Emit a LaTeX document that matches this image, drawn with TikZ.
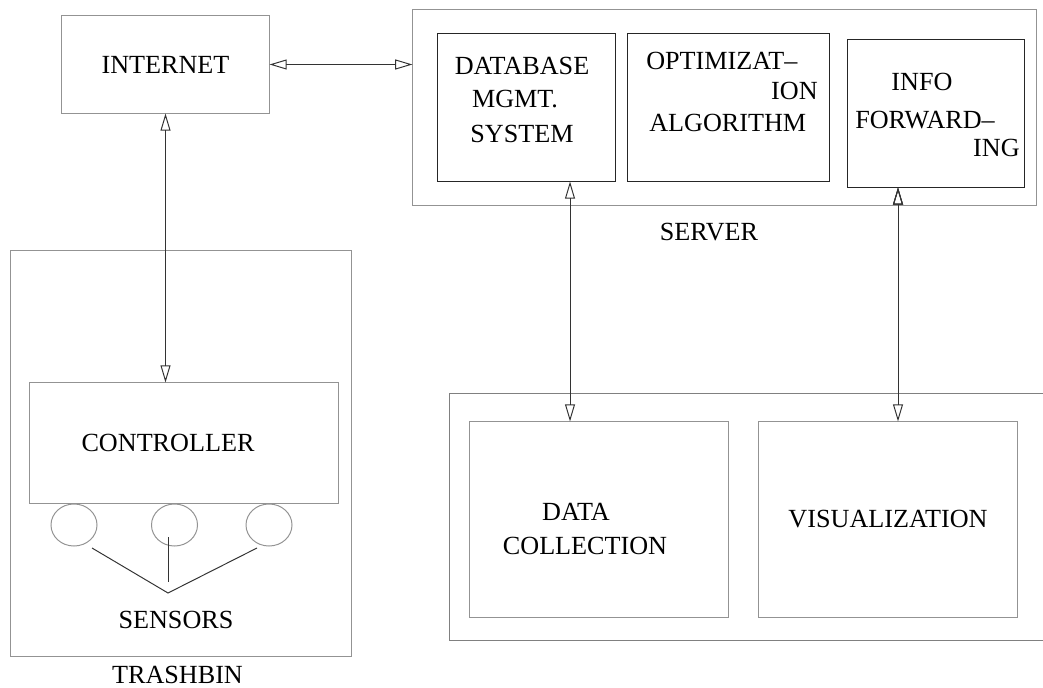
\documentclass[tikz,border=0pt]{standalone}
\usepackage{fontspec}
\setmainfont{Liberation Serif}
\usetikzlibrary{positioning,arrows.meta,shapes.geometric}
\tikzset{frame box/.style={draw=gray!85,line width=0.7pt,inner sep=0pt,font=\fontsize{18.6pt}{22pt}\selectfont},
	part box/.style={draw=black!85,line width=0.7pt,inner sep=0pt},
	sensor node/.style={ellipse,draw=gray!85,line width=0.7pt,minimum width=1.15cm,minimum height=1.05cm,inner sep=0pt},
	label text/.style={font=\fontsize{18.6pt}{22pt}\selectfont,inner sep=0pt},
	wire/.style={draw=black!80,line width=0.7pt},
	link/.style={wire,{Triangle[open,length=0.43cm,width=0.25cm]}-{Triangle[open,length=0.43cm,width=0.25cm]}},
}

\begin{document}
\begin{tikzpicture}[x=0.025cm,y=-0.025cm]
		\useasboundingbox (0,0) rectangle (1043,688);
		
		% boxes
		\node[frame box,minimum width=5.175cm,minimum height=2.425cm] (internet) at (165.5,64.5) {INTERNET};
		\node[frame box,minimum width=15.575cm,minimum height=4.875cm] (server) at (724.5,107.5) {};
		\node[part box,minimum width=4.425cm,minimum height=3.675cm] (db) at (526.5,107.5) {};
		\node[part box,minimum width=5.025cm,minimum height=3.675cm] (opt) at (728.5,107.5) {};
		\node[part box,minimum width=4.425cm,minimum height=3.675cm] (info) at (935.5,113.5) {};
		\node[frame box,minimum width=8.5cm,minimum height=10.125cm] (trashbin) at (181,453.5) {};
		\node[frame box,minimum width=7.7cm,minimum height=3cm] (controller) at (184,443) {};
		\node[frame box,draw=gray,minimum width=15cm,minimum height=6.15cm] (apps) at (750,517) {};
		\node[frame box,minimum width=6.45cm,minimum height=4.875cm] (data) at (599,519.5) {};
		\node[frame box,minimum width=6.45cm,minimum height=4.875cm] (vis) at (888,519.5) {VISUALIZATION};
		
		% sensors
		\node[sensor node] (s1) at (74,525) {};
		\node[sensor node] (s2) at (174.5,525) {};
		\node[sensor node] (s3) at (269,525) {};
		
		% texts
		\node[label text] (db1) at (522,66) {DATABASE};
		\node[label text] (db2) at (515,99) {MGMT.};
		\node[label text] (db3) at (522,134) {SYSTEM};
		\node[label text,anchor=west] (opt1) at (646,61) {OPTIMIZAT--};
		\node[label text,anchor=east] (opt2) at (818,91) {ION};
		\node[label text,anchor=west] (opt3) at (649,123) {ALGORITHM};
		\node[label text] (info1) at (922,82) {INFO};
		\node[label text,anchor=west] (info2) at (855,120) {FORWARD--};
		\node[label text,anchor=east] (info3) at (1020,148) {ING};
		\node[label text] (server label) at (709,232) {SERVER};
		\node[label text] (ctrl label) at (168,443) {CONTROLLER};
		\node[label text] (sensors label) at (176,620) {SENSORS};
		\node[label text] (trashbin label) at (177.5,675) {TRASHBIN};
		\node[label text] (data1) at (576,512) {DATA};
		\node[label text] (data2) at (585,546) {COLLECTION};
		
		% connectors
		\coordinate (db port) at ([xshift=1.0875cm]db.south);
		\coordinate (info port) at ([xshift=-0.9375cm]info.south);
		\path[link]
		(internet.east) edge (internet.east -| server.west)
		(internet.south) edge (internet.south |- controller.north)
		(db port) edge (db port |- data.north)
		(info port) edge (info port |- vis.north);
		
		\coordinate (hub) at (168,593);
		\draw[wire] ([shift={(18,23)}]s1.center) -- (hub) -- ([shift={(-12,23)}]s3.center);
		\draw[wire] ([shift={(-6.5,12)}]s2.center) -- ++(0,45);
		
	\end{tikzpicture}
\end{document}
